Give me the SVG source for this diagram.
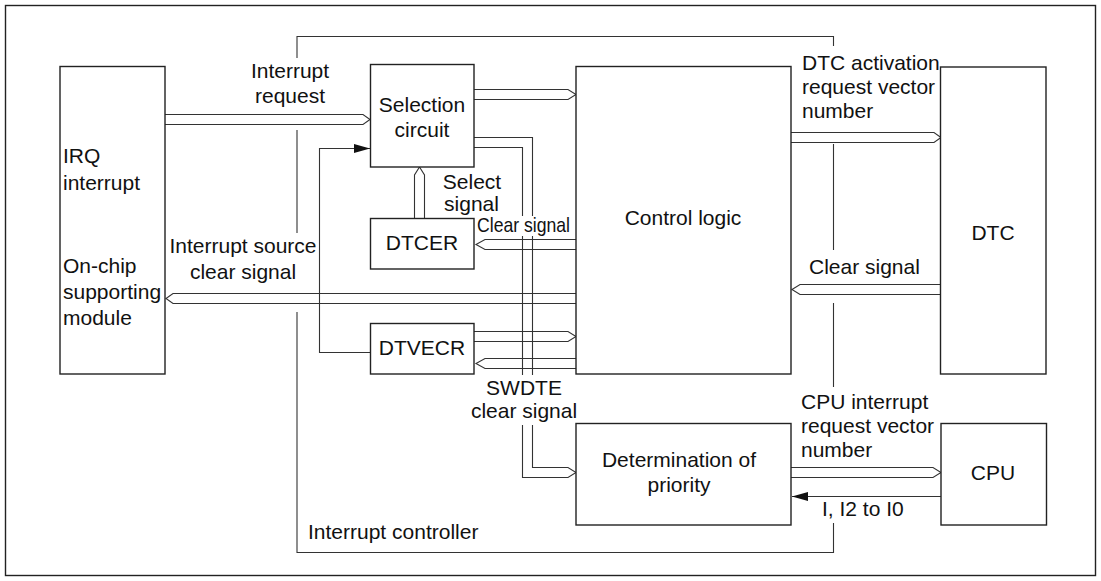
<svg xmlns="http://www.w3.org/2000/svg" width="1101" height="581" viewBox="0 0 1101 581">
<style>
.box{fill:#fff;stroke:#222;stroke-width:1.4}
.frame{fill:none;stroke:#222;stroke-width:1.4}
.bus{fill:none;stroke:#333;stroke-width:1.1;stroke-linejoin:miter}
.wire{fill:none;stroke:#333;stroke-width:1.1}
text{font-family:"Liberation Sans",Arial,sans-serif;font-size:21px;fill:#111}
.c{text-anchor:middle}
</style>
<defs>
<marker id="ah" markerUnits="userSpaceOnUse" markerWidth="17" markerHeight="10" refX="16" refY="4.5" orient="auto">
<path d="M0,0 L16,4.5 L0,9 z" fill="#111"/>
</marker>
</defs>
<rect x="5.5" y="5.5" width="1090" height="570" class="frame"/>
<g id="interrupt-controller">
<path class="wire" d="M297,58 V36.5 H833.5 V46 M833.5,144 V250 M833.5,303 V387 M833.5,523 V552.5 H297 V312 M297,233 V130"/>
<text x="308" y="539">Interrupt controller</text>
</g>
<g id="connectors">
<path class="bus" d="M165,114.5 H363 L370,119.5 L363,124.5 H165"/>
<path class="bus" d="M474,89.5 H568 L576,94.5 L568,99.5 H474"/>
<path class="bus" d="M474,137.5 H532.5 V216 M532.5,236 V375 M532.5,425 V467.5 H568 L576,472.5 L568,477.5 H522.5 V425 M522.5,375 V236 M522.5,216 V147.5 H474"/>
<path class="bus" d="M414.5,218 V175 L419.5,167 L424.5,175 V218"/>
<path class="bus" d="M576,239.5 H485 L476,244.5 L485,249.5 H576"/>
<path class="bus" d="M576,293.5 H173 L166,298.5 L173,303.5 H576"/>
<path class="bus" d="M474,331.5 H568 L576,336.5 L568,341.5 H474"/>
<path class="bus" d="M576,358.5 H485 L476,363.5 L485,368.5 H576"/>
<path class="bus" d="M791,132.5 H934 L941,137.5 L934,142.5 H791"/>
<path class="bus" d="M940,284.5 H800 L792,289.5 L800,294.5 H940"/>
<path class="bus" d="M791,467.5 H933 L941,472.5 L933,477.5 H791"/>
<path class="wire" d="M370,352.5 H319.5 V148.5 H370" marker-end="url(#ah)"/>
<path class="wire" d="M941,496.5 H792" marker-end="url(#ah)"/>
<text class="c" x="290" y="78">Interrupt</text>
<text class="c" x="290" y="103">request</text>
<text class="c" x="472" y="189">Select</text>
<text class="c" x="471.5" y="211">signal</text>
<text x="477" y="232" textLength="93" lengthAdjust="spacingAndGlyphs">Clear signal</text>
<text class="c" x="243" y="253">Interrupt source</text>
<text class="c" x="243" y="279">clear signal</text>
<text class="c" x="524" y="395">SWDTE</text>
<text class="c" x="524" y="418">clear signal</text>
<text x="802" y="70">DTC activation</text>
<text x="802" y="94">request vector</text>
<text x="802" y="118">number</text>
<text x="809" y="274">Clear signal</text>
<text x="801" y="409">CPU interrupt</text>
<text x="801" y="433">request vector</text>
<text x="801" y="457">number</text>
<text x="822" y="516">I, I2 to I0</text>
</g>
<g id="irq-module">
<rect class="box" x="60" y="66.5" width="105" height="307.5"/>
<text x="63" y="163">IRQ</text>
<text x="63" y="190">interrupt</text>
<text x="63" y="273">On-chip</text>
<text x="63" y="299">supporting</text>
<text x="63" y="325">module</text>
</g>
<g id="selection-circuit">
<rect class="box" x="370.5" y="64.5" width="103.5" height="102.5"/>
<text class="c" x="422" y="112">Selection</text>
<text class="c" x="422" y="137">circuit</text>
</g>
<g id="dtcer">
<rect class="box" x="370.5" y="218.5" width="103.5" height="50.5"/>
<text class="c" x="422" y="250">DTCER</text>
</g>
<g id="dtvecr">
<rect class="box" x="370.5" y="323.5" width="103.5" height="50.5"/>
<text class="c" x="422" y="355">DTVECR</text>
</g>
<g id="control-logic">
<rect class="box" x="576" y="66.5" width="215" height="307.5"/>
<text class="c" x="683" y="225">Control logic</text>
</g>
<g id="dtc">
<rect class="box" x="940.5" y="67" width="105.5" height="307"/>
<text class="c" x="993" y="240">DTC</text>
</g>
<g id="determination">
<rect class="box" x="576" y="423.5" width="215" height="101.5"/>
<text class="c" x="679" y="467">Determination of</text>
<text class="c" x="679" y="492">priority</text>
</g>
<g id="cpu">
<rect class="box" x="941" y="423.5" width="105.5" height="101.5"/>
<text class="c" x="993" y="480">CPU</text>
</g>
</svg>
